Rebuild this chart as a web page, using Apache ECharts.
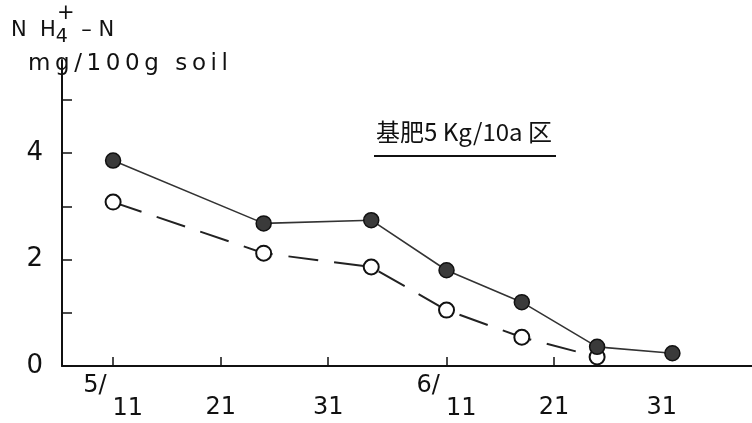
<!DOCTYPE html>
<html>
<head>
<meta charset="utf-8">
<script src="https://cdn.jsdelivr.net/npm/echarts@6/dist/echarts.min.js"></script>
<style>
  html, body { margin: 0; padding: 0; background: #fff; }
  #chart { width: 752px; height: 423px; }
</style>
</head>
<body>
<div id="chart"></div>
<script>
// Sampling days, counted from May 11
const sampleDays = [0, 14, 24, 31, 38, 45, 52];
// NH4+-N (mg/100g soil)
const filledSeries = [3.86, 2.68, 2.74, 1.80, 1.20, 0.36, 0.24];
const openSeries   = [3.08, 2.12, 1.86, 1.05, 0.54, 0.17, null];

// Date ticks along the x axis (days from May 11) and their labels
const dateTickDays = [0, 10, 20, 31, 41, 51];
const dateTickLabels = ['5/11', '21', '31', '6/11', '21', '31'];
const markedTickDays = [0, 10, 20, 31, 41];

const yTickValues = [0, 1, 2, 3, 4, 5];
const yLabelValues = [0, 2, 4];

const FONT = '"DejaVu Sans", "Liberation Sans", sans-serif';
const TS = '\u2009'; // thin space used for the wide letter spacing of the unit line

function pairs(ys) {
  return sampleDays.map((d, i) => [d, ys[i]]).filter(p => p[1] !== null);
}

const chart = echarts.init(document.getElementById('chart'));

chart.setOption({
  animation: false,
  backgroundColor: '#ffffff',
  grid: { left: 62, right: 0, top: 60, bottom: 57 },
  xAxis: {
    type: 'value',
    min: -4.75,
    max: 59.4,
    splitLine: { show: false },
    axisLine: { show: true, onZero: false, lineStyle: { color: '#111', width: 2 } },
    axisTick: {
      show: true, inside: true, length: 9,
      customValues: markedTickDays,
      lineStyle: { color: '#111', width: 1.5 }
    },
    axisLabel: {
      show: true,
      customValues: dateTickDays,
      margin: 8,
      color: '#111',
      fontFamily: FONT,
      fontSize: 24,
      formatter: function (v) {
        const i = dateTickDays.indexOf(v);
        const t = i >= 0 ? dateTickLabels[i] : '';
        const parts = t.split('/');
        if (parts.length === 2) {
          return '{m|' + parts[0] + '/}{d|' + parts[1] + '}';
        }
        return '{d|' + t + '}';
      },
      rich: {
        m: { fontFamily: FONT, fontSize: 24, color: '#111', padding: [0, 6, 24, 0] },
        d: { fontFamily: FONT, fontSize: 24, color: '#111', padding: [22, 0, 0, 0] }
      }
    }
  },
  yAxis: {
    type: 'value',
    min: 0,
    max: 5.75,
    splitLine: { show: false },
    axisLine: { show: true, onZero: false, lineStyle: { color: '#111', width: 2 } },
    axisTick: {
      show: true, inside: true, length: 10,
      customValues: yTickValues,
      lineStyle: { color: '#111', width: 1.5 }
    },
    axisLabel: {
      show: true,
      customValues: yLabelValues,
      margin: 19,
      color: '#111',
      fontFamily: FONT,
      fontSize: 26
    }
  },
  series: [
    {
      type: 'line',
      data: pairs(openSeries),
      symbol: 'circle',
      symbolSize: 15,
      itemStyle: { color: '#ffffff', borderColor: '#111', borderWidth: 2 },
      lineStyle: { color: '#222', width: 2, type: [30, 16] },
      z: 2
    },
    {
      type: 'line',
      data: pairs(filledSeries),
      symbol: 'circle',
      symbolSize: 15,
      itemStyle: { color: '#3a3a3a', borderColor: '#111', borderWidth: 1.5 },
      lineStyle: { color: '#333', width: 1.6 },
      z: 3
    }
  ],
  graphic: [
    {
      type: 'text',
      left: 11, top: 3,
      style: {
        text: '{n|N  H}{s|4}{p|+}{n| – N}',
        fontFamily: FONT,
        rich: {
          n: { fontFamily: FONT, fontSize: 21, fill: '#111', padding: [14, 0, 0, 0] },
          s: { fontFamily: FONT, fontSize: 19, fill: '#111', padding: [28, 0, 0, 0] },
          p: { fontFamily: FONT, fontSize: 21, fill: '#111', padding: [0, 0, 20, -11] }
        }
      }
    },
    {
      type: 'text',
      left: 28, top: 53,
      style: {
        text: ['m', 'g', '/', '1', '0', '0', 'g', ' ', 's', 'o', 'i', 'l'].join(TS),
        fontFamily: FONT,
        fontSize: 23,
        fill: '#111'
      }
    },
    {
      type: 'text',
      left: 376, top: 120,
      style: {
        text: '基肥5 Kg/10a 区',
        fontFamily: '"Noto Sans CJK JP", sans-serif',
        fontSize: 24,
        fill: '#111'
      }
    },
    {
      type: 'line',
      shape: { x1: 374, y1: 156, x2: 556, y2: 156 },
      style: { stroke: '#111', lineWidth: 2 }
    }
  ]
});
</script>
</body>
</html>
